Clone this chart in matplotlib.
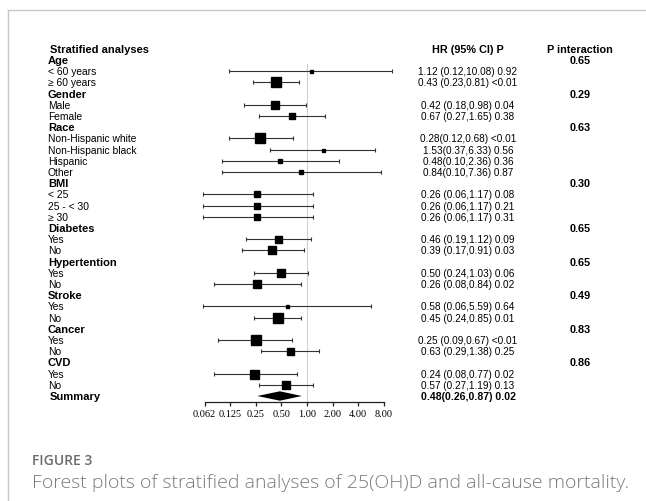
import numpy as np
import matplotlib
matplotlib.use('Agg')
from matplotlib import pyplot as plt
from matplotlib.lines import Line2D

# rows: (label, is_header)
labels = ['Age', '< 60 years', '≥ 60 years',
          'Gender', 'Male', 'Female',
          'Race', 'Non-Hispanic white', 'Non-Hispanic black', 'Hispanic', 'Other',
          'BMI', '< 25', '25 - < 30', '≥ 30',
          'Diabetes', 'Yes', 'No',
          'Hypertention', 'Yes', 'No',
          'Stroke', 'Yes', 'No',
          'Cancer', 'Yes', 'No',
          'CVD', 'Yes', 'No']
is_header = [1, 0, 0, 1, 0, 0, 1, 0, 0, 0, 0, 1, 0, 0, 0,
             1, 0, 0, 1, 0, 0, 1, 0, 0, 1, 0, 0, 1, 0, 0]

hr = [None, 1.12, 0.43, None, 0.42, 0.67, None, 0.28, 1.53, 0.48, 0.84,
      None, 0.26, 0.26, 0.26, None, 0.46, 0.39, None, 0.50, 0.26,
      None, 0.58, 0.45, None, 0.25, 0.63, None, 0.24, 0.57]
lo = [None, 0.12, 0.23, None, 0.18, 0.27, None, 0.12, 0.37, 0.10, 0.10,
      None, 0.06, 0.06, 0.06, None, 0.19, 0.17, None, 0.24, 0.08,
      None, 0.06, 0.24, None, 0.09, 0.29, None, 0.08, 0.27]
hi = [None, 10.08, 0.81, None, 0.98, 1.65, None, 0.68, 6.33, 2.36, 7.36,
      None, 1.17, 1.17, 1.17, None, 1.12, 0.91, None, 1.03, 0.84,
      None, 5.59, 0.85, None, 0.67, 1.38, None, 0.77, 1.19]
# box weights (relative)
weight = [None, 3, 10, None, 8, 6, None, 10.5, 3, 5, 4,
          None, 6.5, 6.5, 6.5, None, 7, 8, None, 7.5, 8,
          None, 3, 10, None, 9.5, 7, None, 9, 8]
hr_text = [None, '1.12 (0.12,10.08) 0.92', '0.43 (0.23,0.81) <0.01',
           None, '0.42 (0.18,0.98) 0.04', '0.67 (0.27,1.65) 0.38',
           None, '0.28(0.12,0.68) <0.01', '1.53(0.37,6.33) 0.56',
           '0.48(0.10,2.36) 0.36', '0.84(0.10,7.36) 0.87',
           None, '0.26 (0.06,1.17) 0.08', '0.26 (0.06,1.17) 0.21', '0.26 (0.06,1.17) 0.31',
           None, '0.46 (0.19,1.12) 0.09', '0.39 (0.17,0.91) 0.03',
           None, '0.50 (0.24,1.03) 0.06', '0.26 (0.08,0.84) 0.02',
           None, '0.58 (0.06,5.59) 0.64', '0.45 (0.24,0.85) 0.01',
           None, '0.25 (0.09,0.67) <0.01', '0.63 (0.29,1.38) 0.25',
           None, '0.24 (0.08,0.77) 0.02', '0.57 (0.27,1.19) 0.13']
p_inter = ['0.65', None, None, '0.29', None, None, '0.63', None, None, None, None,
           '0.30', None, None, None, '0.65', None, None, '0.65', None, None,
           '0.49', None, None, '0.83', None, None, '0.86', None, None]

summary_hr, summary_lo, summary_hi = 0.48, 0.26, 0.87
summary_text = '0.48(0.26,0.87) 0.02'

ticks = [0.0625, 0.125, 0.25, 0.5, 1, 2, 4, 8]
tick_labels = ['0.062', '0.125', '0.25', '0.50', '1.00', '2.00', '4.00', '8.00']

W, H = 646, 502
fig = plt.figure(figsize=(W / 100, H / 100), dpi=100)

# frame lines of the figure page
fig.add_artist(Line2D([8 / W, 1], [1 - 11 / H, 1 - 11 / H], color='#c8c8c8', lw=1))
fig.add_artist(Line2D([8 / W, 8 / W], [0, 1 - 11 / H], color='#c8c8c8', lw=1))

# forest axes: px = 307 + 25.6*log2(x); row r at py = 61 + 11.2*(r-1)
ax_l, ax_r = 190, 405
ax_t, ax_b = 40, 403
ax = fig.add_axes([ax_l / W, 1 - ax_b / H, (ax_r - ax_l) / W, (ax_b - ax_t) / H])
ax.set_xscale('log', base=2)
ax.set_xlim(2 ** ((ax_l - 307) / 25.6), 2 ** ((ax_r - 307) / 25.6))
ax.set_ylim((ax_b - 61) / 11.2 + 1, (ax_t - 61) / 11.2 + 1)

for s in ['top', 'left', 'right']:
    ax.spines[s].set_visible(False)
ax.spines['bottom'].set_bounds(ticks[0], ticks[-1])
ax.spines['bottom'].set_linewidth(0.9)
ax.spines['bottom'].set_color('#222222')
ax.set_xticks(ticks)
ax.set_xticklabels(tick_labels, fontfamily='Liberation Serif', fontsize=7.4)
ax.xaxis.set_minor_locator(matplotlib.ticker.NullLocator())
ax.tick_params(axis='x', direction='out', length=3, width=0.9, color='#222222', pad=2)
ax.set_yticks([])
ax.patch.set_alpha(0)

ax.axvline(1, ymin=0, ymax=1 - (65 - ax_t) / (ax_b - ax_t), color='#d0d0d0', lw=0.8, zorder=0)

rows = np.arange(1, len(labels) + 1)
for r, h, l, u, w in zip(rows, hr, lo, hi, weight):
    if h is None:
        continue
    ax.errorbar(h, r, xerr=[[h - l], [u - h]], fmt='none', ecolor='#333333',
                elinewidth=0.8, capsize=1.6, capthick=0.8)
    ax.plot(h, r, 's', color='black', markersize=w * 0.72, zorder=3)

# summary diamond
sr = len(labels) + 1
ax.fill([summary_lo, summary_hr, summary_hi, summary_hr],
        [sr, sr - 0.42, sr, sr + 0.42], color='black', lw=0, zorder=3)

# text columns: figure x, data y
tr = matplotlib.transforms.blended_transform_factory(fig.transFigure, ax.transData)
lab_x = 48 / W
sans = 'Liberation Sans'
ax.text(50 / W, 0, 'Stratified analyses', transform=tr, fontfamily=sans,
        fontweight='bold', fontsize=8, va='center', ha='left')
ax.text(468 / W, 0, 'HR (95% CI) P', transform=tr, fontfamily=sans,
        fontweight='bold', fontsize=7.8, va='center', ha='center')
ax.text(580 / W, 0, 'P interaction', transform=tr, fontfamily=sans,
        fontweight='bold', fontsize=7.8, va='center', ha='center')
for r, lab, hd, t, p in zip(rows, labels, is_header, hr_text, p_inter):
    ax.text(lab_x, r, lab, transform=tr, fontfamily=sans,
            fontweight='bold' if hd else 'normal', fontsize=8 if hd else 7.4,
            va='center', ha='left')
    if t is not None:
        ax.text(468 / W, r, t, transform=tr, fontfamily=sans, fontsize=7.2,
                va='center', ha='center')
    if p is not None:
        ax.text(580 / W, r, p, transform=tr, fontfamily=sans, fontweight='bold',
                fontsize=7.8, va='center', ha='center')
ax.text(50 / W, sr, 'Summary', transform=tr, fontfamily=sans, fontweight='bold',
        fontsize=8, va='center', ha='left')
ax.text(468 / W, sr, summary_text, transform=tr, fontfamily=sans, fontweight='bold',
        fontsize=7.6, va='center', ha='center')

# caption
fig.text(32 / W, 1 - 461 / H, 'FIGURE 3', fontfamily='Open Sans', fontweight='semibold',
         fontsize=10, color='#6b6b6b', va='center', ha='left')
fig.text(32 / W, 1 - 483 / H, 'Forest plots of stratified analyses of 25(OH)D and all-cause mortality.',
         fontfamily='Open Sans', fontweight='light', fontsize=14, color='#7a7a7a',
         va='center', ha='left')

fig.savefig('out.png', dpi=100)
